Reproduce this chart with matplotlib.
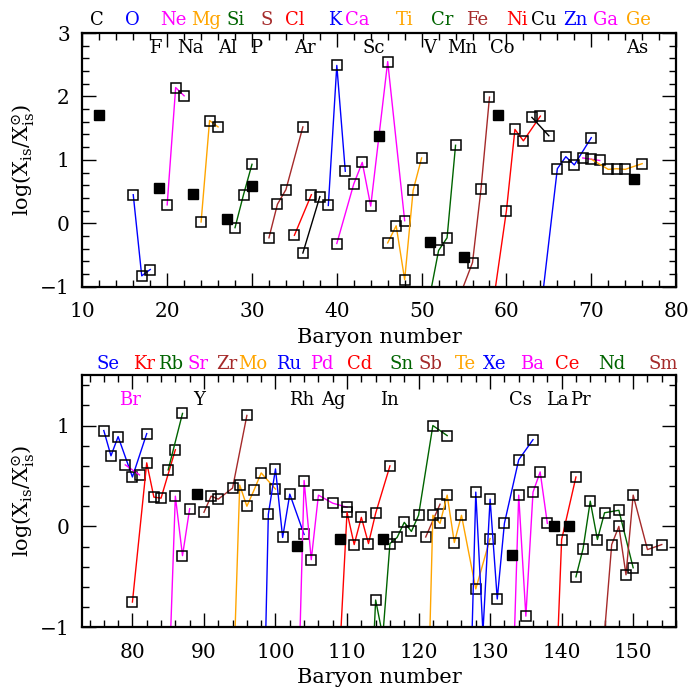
import matplotlib
matplotlib.use('Agg')
import matplotlib.pyplot as plt
from matplotlib.ticker import MultipleLocator

plt.rcParams['font.family'] = ['DejaVu Serif']
plt.rcParams['mathtext.fontset'] = 'dejavuserif'

BLU, MAG, ORA, GRN, BRN, RED, BLK = '#0000ff', '#ff00ff', '#ffa500', '#006400', '#a52a2a', '#ff0000', '#000000'

# ---- top panel: isotopes of each element (baryon number, log ratio)
top_elems = ['O', 'Ne', 'Mg', 'Si', 'S', 'Cl', 'Ar', 'K', 'Ca', 'Ti', 'Cr', 'Fe', 'Ni', 'Cu', 'Zn', 'Ga', 'Ge']
top_cols = [BLU, MAG, ORA, GRN, BRN, RED, BLK, BLU, MAG, ORA, GRN, BRN, RED, BLK, BLU, MAG, ORA]
top_A = [[16, 17, 18], [20, 21, 22], [24, 25, 26], [28, 29, 30], [32, 33, 34, 36],
         [35, 37], [36, 38], [39, 40, 41], [40, 42, 43, 44, 46, 48], [46, 47, 48, 49, 50],
         [50, 52, 53, 54], [54, 56, 57, 58], [58, 60, 61, 62, 64], [63, 65],
         [64, 66, 67, 68, 70], [69, 71], [70, 72, 73, 74, 76]]
top_y = [[0.45, -0.83, -0.73], [0.29, 2.14, 2.01], [0.02, 1.62, 1.52], [-0.07, 0.45, 0.93],
         [-0.23, 0.30, 0.53, 1.52], [-0.19, 0.45], [-0.47, 0.42], [0.28, 2.49, 0.82],
         [-0.32, 0.62, 0.96, 0.27, 2.55, 0.04], [-0.31, -0.04, -0.89, 0.52, 1.03],
         [-1.82, -0.43, -0.23, 1.23], [-1.32, -0.62, 0.54, 1.99], [-1.67, 0.20, 1.48, 1.30, 1.69],
         [1.67, 1.38], [-1.44, 0.86, 1.05, 0.92, 1.35], [1.03, 0.99], [1.01, 0.85, 0.86, 0.85, 0.94]]
# single-isotope elements (filled squares)
top_mono_A = [12, 19, 23, 27, 30, 45, 51, 55, 59, 75]
top_mono_y = [1.70, 0.55, 0.46, 0.07, 0.59, 1.38, -0.30, -0.54, 1.71, 0.69]

# labels above the frame and inside it
top_lab1 = ['C', 'O', 'Ne', 'Mg', 'Si', 'S', 'Cl', 'K', 'Ca', 'Ti', 'Cr', 'Fe', 'Ni', 'Cu', 'Zn', 'Ga', 'Ge']
top_lab1_x = [11.7, 15.9, 20.7, 24.6, 28.1, 31.7, 35.1, 39.8, 42.4, 48.0, 52.4, 56.5, 61.2, 64.4, 68.1, 71.7, 75.6]
top_lab1_c = [BLK, BLU, MAG, ORA, GRN, BRN, RED, BLU, MAG, ORA, GRN, BRN, RED, BLK, BLU, MAG, ORA]
top_lab2 = ['F', 'Na', 'Al', 'P', 'Ar', 'Sc', 'V', 'Mn', 'Co', 'As']
top_lab2_x = [18.6, 22.7, 27.1, 30.5, 36.2, 44.3, 50.9, 54.8, 59.5, 75.4]

# ---- bottom panel
bot_elems = ['Se', 'Br', 'Kr', 'Rb', 'Sr', 'Zr', 'Mo', 'Ru', 'Pd', 'Cd', 'Sn', 'Sb', 'Te', 'Xe', 'Ba', 'Ce', 'Nd', 'Sm']
bot_cols = [BLU, MAG, RED, GRN, MAG, BRN, ORA, BLU, MAG, RED, GRN, BRN, ORA, BLU, MAG, RED, GRN, BRN]
bot_A = [[76, 77, 78, 80, 82], [79, 81], [80, 82, 83, 84, 86], [85, 87], [84, 86, 87, 88],
         [90, 91, 92, 94, 96], [94, 95, 96, 97, 98, 100], [98, 99, 100, 101, 102, 104],
         [102, 104, 105, 106, 108, 110], [108, 110, 111, 112, 113, 114, 116],
         [112, 114, 115, 116, 117, 118, 119, 120, 122, 124], [121, 123],
         [120, 122, 123, 124, 125, 126, 128, 130], [126, 128, 129, 130, 131, 132, 134, 136],
         [132, 134, 135, 136, 137, 138], [138, 140, 142], [142, 143, 144, 145, 146, 148, 150],
         [144, 147, 148, 149, 150, 152, 154]]
bot_y = [[0.95, 0.70, 0.89, 0.49, 0.92], [0.61, 0.51], [-0.75, 0.63, 0.29, 0.28, 0.76], [0.56, 1.12],
         [-3.8, 0.30, -0.29, 0.175], [0.14, 0.30, 0.27, 0.38, 1.10], [-1.8, 0.41, 0.20, 0.36, 0.53, 0.37],
         [-3.1, 0.12, 0.57, -0.11, 0.32, -0.08], [-4.8, 0.455, -0.33, 0.31, 0.23, 0.19],
         [-2.6, 0.14, -0.18, 0.09, -0.17, 0.13, 0.60],
         [-3.8, -0.73, -1.09, -0.17, -0.11, 0.04, -0.05, 0.11, 1.00, 0.90], [-0.105, 0.22],
         [-5.4, 0.11, 0.03, 0.31, -0.16, 0.11, -0.62, -0.12], [-5.0, 0.34, -1.05, 0.27, -0.72, 0.03, 0.66, 0.86],
         [-4.3, 0.31, -0.89, 0.34, 0.54, 0.03], [-3.8, -0.13, 0.49], [-0.50, -0.22, 0.25, -0.13, 0.135, 0.16, -0.41],
         [-2.8, -0.18, 0.0, -0.48, 0.31, -0.23, -0.18]]
bot_mono_A = [89, 103, 109, 115, 133, 139, 141]
bot_mono_y = [0.32, -0.195, -0.125, -0.125, -0.28, 0.0, 0.0]

bot_lab1 = ['Se', 'Kr', 'Rb', 'Sr', 'Zr', 'Mo', 'Ru', 'Pd', 'Cd', 'Sn', 'Sb', 'Te', 'Xe', 'Ba', 'Ce', 'Nd', 'Sm']
bot_lab1_x = [76.6, 81.6, 85.3, 89.1, 93.2, 96.8, 101.8, 106.5, 111.8, 117.6, 121.7, 126.6, 130.7, 135.8, 140.8, 147.0, 154.2]
bot_lab1_c = [BLU, RED, GRN, MAG, BRN, ORA, BLU, MAG, RED, GRN, BRN, ORA, BLU, MAG, RED, GRN, BRN]
bot_lab2 = ['Br', 'Y', 'Rh', 'Ag', 'In', 'Cs', 'La', 'Pr']
bot_lab2_x = [79.7, 89.3, 103.7, 108.1, 115.9, 134.2, 139.4, 142.6]
bot_lab2_c = [MAG, BLK, BLK, BLK, BLK, BLK, BLK, BLK]

ylab = r'log(X$_{\rm is}$/X$_{\rm is}^{\odot}$)'

fig = plt.figure(figsize=(6.92, 6.89), dpi=100)
ax1 = fig.add_axes([0.119, 0.584, 0.858, 0.368])
ax2 = fig.add_axes([0.119, 0.0896, 0.858, 0.366])


def draw(ax, A, Y, cols, mA, mY):
    for a, y, c in zip(A, Y, cols):
        ax.plot(a, y, '-', color=c, lw=1.0)
        ax.plot(a, y, 's', mfc='none', mec='k', ms=6.5, mew=1.1)
    ax.plot(mA, mY, 's', color='k', ms=6.5, ls='none')


def style(ax, xmaj, xmin, ymaj, ymin):
    ax.xaxis.set_major_locator(MultipleLocator(xmaj))
    ax.xaxis.set_minor_locator(MultipleLocator(xmin))
    ax.yaxis.set_major_locator(MultipleLocator(ymaj))
    ax.yaxis.set_minor_locator(MultipleLocator(ymin))
    ax.tick_params(which='both', direction='in', top=True, right=True, labelsize=14.5, width=1.0)
    ax.tick_params(which='major', length=10)
    ax.tick_params(which='minor', length=5)
    ax.tick_params(axis='x', which='major', pad=11)
    ax.tick_params(axis='y', which='major', pad=9)
    for s in ax.spines.values():
        s.set_linewidth(1.6)
    ax.set_xlabel('Baryon number', fontsize=15, labelpad=5)
    ax.set_ylabel(ylab, fontsize=15)
    ax.yaxis.set_label_coords(-0.077, 0.5)


draw(ax1, top_A, top_y, top_cols, top_mono_A, top_mono_y)
ax1.set_xlim(10, 80)
ax1.set_ylim(-1, 3)
style(ax1, 10, 2, 1, 0.2)
for t, x, c in zip(top_lab1, top_lab1_x, top_lab1_c):
    ax1.text(x, 3.2, t, color=c, ha='center', va='center', fontsize=13, clip_on=False)
for t, x in zip(top_lab2, top_lab2_x):
    ax1.text(x, 2.77, t, color='k', ha='center', va='center', fontsize=13)

draw(ax2, bot_A, bot_y, bot_cols, bot_mono_A, bot_mono_y)
ax2.set_xlim(73, 156)
ax2.set_ylim(-1, 1.5)
style(ax2, 10, 2, 1, 0.2)
for t, x, c in zip(bot_lab1, bot_lab1_x, bot_lab1_c):
    ax2.text(x, 1.61, t, color=c, ha='center', va='center', fontsize=13, clip_on=False)
for t, x, c in zip(bot_lab2, bot_lab2_x, bot_lab2_c):
    ax2.text(x, 1.25, t, color=c, ha='center', va='center', fontsize=13)

fig.savefig('out.png', dpi=100)
